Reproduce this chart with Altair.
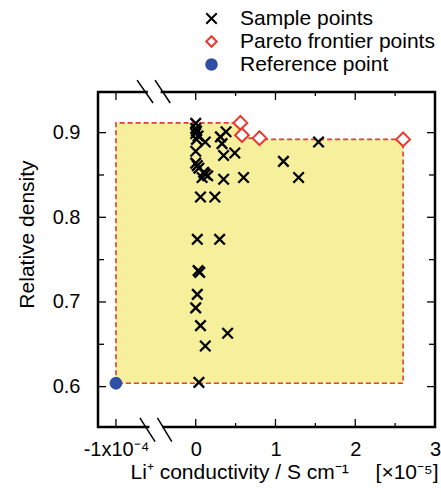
import altair as alt
import pandas as pd

# ---- data (conductivity in units of 1e-5 S/cm) ----
sample_x = [0.00, 0.00, 0.01, 0.00, 0.03, 0.01, 0.12, 0.31, 0.38, 0.33,
            0.00, 0.35, 0.49, 0.00, 0.04, 0.02, 0.10, 0.08, 0.15, 0.12,
            0.35, 0.60, 0.06, 0.24, 0.02, 0.30, 0.03, 0.05, 0.02, 0.00,
            0.06, 0.40, 0.12, 0.04, 1.54, 1.10, 1.29]
sample_y = [0.911, 0.905, 0.902, 0.899, 0.896, 0.892, 0.889, 0.895, 0.901, 0.887,
            0.878, 0.873, 0.876, 0.864, 0.858, 0.861, 0.853, 0.847, 0.849, 0.851,
            0.845, 0.847, 0.824, 0.824, 0.774, 0.774, 0.737, 0.735, 0.709, 0.693,
            0.672, 0.663, 0.648, 0.605, 0.889, 0.866, 0.847]
pareto_x = [0.56, 0.58, 0.80, 2.60]
pareto_y = [0.9115, 0.897, 0.8935, 0.892]
ref_cond = -1e-4          # S/cm, drawn on the broken part of the axis
ref_y = 0.604

x_major = [-1, 0, 1, 2, 3]
x_minor = [0.5, 1.5, 2.5]
y_major = [0.6, 0.7, 0.8, 0.9]
y_minor = [0.65, 0.75, 0.85]

names = ["Sample points", "Pareto frontier points", "Reference point"]

X_DOMAIN = [-1.225, 3.0]
Y_DOMAIN = [0.5523, 0.948]
W, H = 337, 335
FONT = "Liberation Sans"
RED = "#E63B30"
BLUE = "#2F4EA6"
YELLOW = "#F6F09C"
XPATH = "M-1,-1L1,1M-1,1L1,-1"

ref_x = ref_cond / 1e-4  # position on the broken segment

xs = alt.Scale(domain=X_DOMAIN, nice=False, zero=False)
ys = alt.Scale(domain=Y_DOMAIN, nice=False, zero=False)

xaxis = alt.Axis(values=x_major, ticks=False, domain=False, grid=False,
                 labelExpr="datum.value == -1 ? '-1x10⁻⁴ ' : format(datum.value, 'd')",
                 labelFontSize=20, labelFont=FONT, labelColor="black", labelPadding=12,
                 labelFlush=False, labelOverlap=False,
                 title="Li⁺ conductivity / S cm⁻¹\u2003 [×10⁻⁵]",
                 titleFontSize=21, titleFont=FONT, titleFontWeight="normal", titleColor="black",
                 titleAlign="left", titleX=32, titleY=51, titleBaseline="alphabetic")
yaxis = alt.Axis(values=y_major, format=".1f", ticks=False, domain=False, grid=False,
                 labelFontSize=20, labelFont=FONT, labelColor="black", labelPadding=18,
                 labelFlush=False, labelOverlap=False,
                 title="Relative density", titleFontSize=21, titleFont=FONT,
                 titleFontWeight="normal", titleColor="black", titleAngle=-90,
                 titleAlign="center", titleX=-65, titleY=142, titleBaseline="alphabetic")


def X(f):
    return alt.X(f, scale=xs, axis=xaxis)


def Y(f):
    return alt.Y(f, scale=ys, axis=yaxis)


# dominated region (staircase)
area_x = [ref_x] + pareto_x
area_top = pareto_y + [pareto_y[-1]]
area_df = pd.DataFrame({"x": area_x, "top": area_top, "base": ref_y})

ox, oy = [ref_x, ref_x], [ref_y, pareto_y[0]]
for i in range(len(pareto_x)):
    ox.append(pareto_x[i]); oy.append(pareto_y[i])
    if i + 1 < len(pareto_x):
        ox.append(pareto_x[i]); oy.append(pareto_y[i + 1])
ox += [pareto_x[-1], ref_x]
oy += [ref_y, ref_y]
outline_df = pd.DataFrame({"x": ox, "y": oy, "o": list(range(len(ox)))})

samples_df = pd.DataFrame({"x": sample_x, "y": sample_y, "series": names[0]})
pareto_df = pd.DataFrame({"x": pareto_x, "y": pareto_y, "series": names[1]})
ref_df = pd.DataFrame({"x": [ref_x], "y": [ref_y], "series": names[2]})

leg = alt.Legend(orient="none", legendX=103, legendY=-84, title=None,
                 labelFontSize=21, labelFont=FONT, labelColor="black", labelLimit=0,
                 symbolStrokeWidth=2, symbolSize=110, labelOffset=18,
                 rowPadding=1, padding=0)
shape_enc = alt.Shape("series:N", scale=alt.Scale(domain=names, range=[XPATH, "diamond", "circle"]), legend=leg)
fill_enc = alt.Fill("series:N", scale=alt.Scale(domain=names, range=["transparent", "white", BLUE]), legend=leg)
stroke_enc = alt.Stroke("series:N", scale=alt.Scale(domain=names, range=["black", RED, BLUE]), legend=leg)

area = alt.Chart(area_df).mark_area(interpolate="step-after", color=YELLOW, opacity=1).encode(
    x=X("x:Q"), y=Y("top:Q"), y2="base:Q")
outline = alt.Chart(outline_df).mark_line(color=RED, strokeDash=[5, 3], strokeWidth=1.6).encode(
    x=X("x:Q"), y=Y("y:Q"), order="o:Q")

samples = alt.Chart(samples_df).mark_point(size=110, strokeWidth=2.3, opacity=1).encode(
    x=X("x:Q"), y=Y("y:Q"), shape=shape_enc, fill=fill_enc, stroke=stroke_enc)
pareto = alt.Chart(pareto_df).mark_point(size=190, strokeWidth=2, opacity=1).encode(
    x=X("x:Q"), y=Y("y:Q"), shape=shape_enc, fill=fill_enc, stroke=stroke_enc)
refp = alt.Chart(ref_df).mark_point(size=140, strokeWidth=1, opacity=1).encode(
    x=X("x:Q"), y=Y("y:Q"), shape=shape_enc, fill=fill_enc, stroke=stroke_enc)

# axis break: white gaps in the frame and double slashes
gap_df = pd.DataFrame({"x1": [-0.58, -0.6], "x2": [-0.42, -0.44], "y": [Y_DOMAIN[0], Y_DOMAIN[1]]})
gap = alt.Chart(gap_df).mark_rule(color="white", strokeWidth=5).encode(
    x=X("x1:Q"), x2="x2:Q", y=Y("y:Q"))
slash_df = pd.DataFrame({
    "x1": [-0.70, -0.48, -0.735, -0.51],
    "x2": [-0.51, -0.30, -0.535, -0.32],
    "y1": [0.563, 0.563, 0.962, 0.962],
    "y2": [0.535, 0.535, 0.935, 0.935]})
slashes = alt.Chart(slash_df).mark_rule(color="black", strokeWidth=1.5).encode(
    x=X("x1:Q"), x2="x2:Q", y=Y("y1:Q"), y2="y2:Q")


# inward ticks on all four sides
def xticks(vals, length):
    d = pd.DataFrame({"v": vals})
    b = alt.Chart(d).mark_rule(color="black", strokeWidth=1.3).encode(
        x=X("v:Q"), y=alt.value(H), y2=alt.value(H - length))
    t = alt.Chart(d).mark_rule(color="black", strokeWidth=1.3).encode(
        x=X("v:Q"), y=alt.value(0), y2=alt.value(length))
    return [b, t]


def yticks(vals, length):
    d = pd.DataFrame({"v": vals})
    l = alt.Chart(d).mark_rule(color="black", strokeWidth=1.3).encode(
        y=Y("v:Q"), x=alt.value(0), x2=alt.value(length))
    r = alt.Chart(d).mark_rule(color="black", strokeWidth=1.3).encode(
        y=Y("v:Q"), x=alt.value(W), x2=alt.value(W - length))
    return [l, r]


ticks = xticks(x_major, 8) + xticks(x_minor, 4) + yticks(y_major, 8) + yticks(y_minor, 6)

chart = alt.layer(area, outline, samples, pareto, refp, gap, slashes, *ticks).properties(
    width=W, height=H,
    padding={"left": 98, "top": 92, "right": 6, "bottom": 69},
    autosize=alt.AutoSizeParams(type="none"),
).configure(font=FONT).configure_view(stroke="black", strokeWidth=2.5)

chart.save("out.html", embed_options={"renderer": "svg", "actions": False})
